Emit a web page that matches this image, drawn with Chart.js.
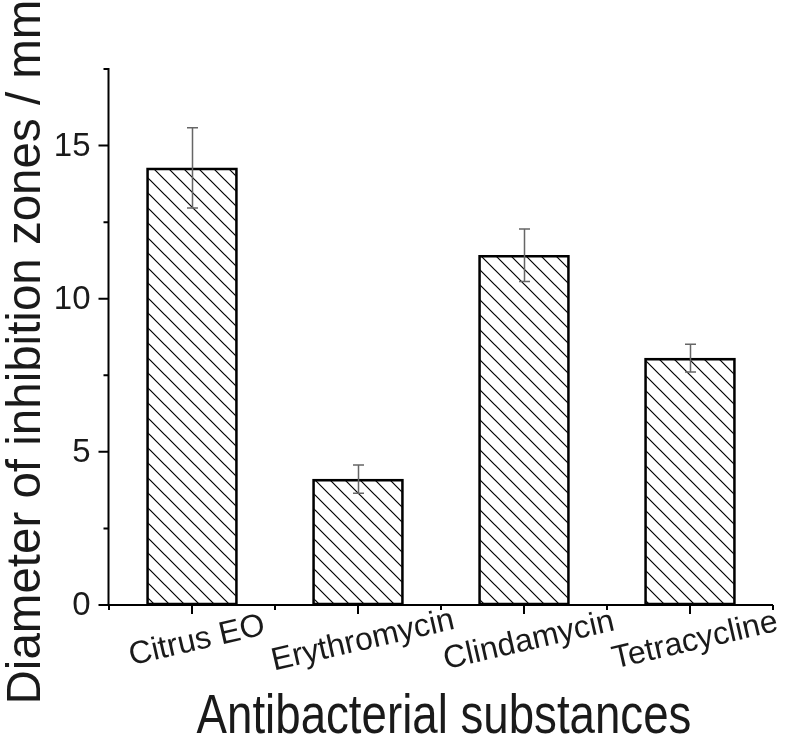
<!DOCTYPE html>
<html>
<head>
<meta charset="utf-8">
<script src="https://cdn.jsdelivr.net/npm/chart.js@4.4.1/dist/chart.umd.min.js"></script>
<style>
  body { margin: 0; background: #fff; }
  canvas { display: block; }
</style>
</head>
<body>
<canvas id="chart" width="787" height="741"></canvas>
<script>
// Data
const categories = ["Citrus EO", "Erythromycin", "Clindamycin", "Tetracycline"];
const zoneMeans = [14.27, 4.11, 11.42, 8.06];
const zoneErrors = [1.31, 0.46, 0.86, 0.45];
const yMajorTicks = [0, 5, 10, 15];
const yMinorTicks = [2.5, 7.5, 12.5, 17.5];
const xTitle = "Antibacterial substances";
const yTitle = "Diameter of inhibition zones / mm";

const FONT = '"Liberation Sans", Arial, sans-serif';

// hatch "\\\" pattern
function makeHatch() {
  const size = 15;
  const c = document.createElement("canvas");
  c.width = size;
  c.height = size;
  const g = c.getContext("2d");
  g.strokeStyle = "#000";
  g.lineWidth = 1.2;
  g.beginPath();
  g.moveTo(0, 0);
  g.lineTo(size, size);
  g.moveTo(-2, size - 2);
  g.lineTo(2, size + 2);
  g.moveTo(size - 2, -2);
  g.lineTo(size + 2, 2);
  g.stroke();
  return g.createPattern(c, "repeat");
}

const canvas = document.getElementById("chart");
const ctx = canvas.getContext("2d");

const errorBars = {
  id: "errorBars",
  afterDatasetsDraw(chart) {
    const { ctx } = chart;
    const y = chart.scales.y;
    const meta = chart.getDatasetMeta(0);
    ctx.save();
    ctx.strokeStyle = "#666";
    ctx.lineWidth = 1.5;
    meta.data.forEach((bar, i) => {
      const x = Math.round(bar.x) + 0.5;
      const top = y.getPixelForValue(zoneMeans[i] + zoneErrors[i]);
      const bot = y.getPixelForValue(zoneMeans[i] - zoneErrors[i]);
      ctx.beginPath();
      ctx.moveTo(x, top);
      ctx.lineTo(x, bot);
      ctx.moveTo(x - 5.5, top);
      ctx.lineTo(x + 5.5, top);
      ctx.moveTo(x - 5.5, bot);
      ctx.lineTo(x + 5.5, bot);
      ctx.stroke();
    });
    ctx.restore();
  },
};

// axes, ticks and texts drawn from the scales
const axesPlugin = {
  id: "axesPlugin",
  afterDraw(chart) {
    const { ctx, chartArea } = chart;
    const x = chart.scales.x;
    const y = chart.scales.y;
    const left = chartArea.left - 0.5;
    const bottom = chartArea.bottom;

    ctx.save();
    ctx.strokeStyle = "#000";
    ctx.lineWidth = 2;
    ctx.beginPath();
    ctx.moveTo(left, y.getPixelForValue(17.5) - 1);
    ctx.lineTo(left, bottom);
    ctx.moveTo(left - 10, bottom);
    ctx.lineTo(chartArea.right, bottom);
    yMajorTicks.forEach((v) => {
      const py = y.getPixelForValue(v);
      ctx.moveTo(left - 10, py);
      ctx.lineTo(left, py);
    });
    yMinorTicks.forEach((v) => {
      const py = y.getPixelForValue(v);
      ctx.moveTo(left - 5, py);
      ctx.lineTo(left, py);
    });
    categories.forEach((c, i) => {
      const px = x.getPixelForValue(i);
      ctx.moveTo(px, bottom);
      ctx.lineTo(px, bottom + 9);
    });
    for (let i = 0; i <= categories.length; i++) {
      const px = x.getPixelForValue(i - 0.5);
      ctx.moveTo(px, bottom);
      ctx.lineTo(px, bottom + 5);
    }
    ctx.stroke();

    ctx.fillStyle = "#1a1a1a";
    // y tick labels
    ctx.font = "33px " + FONT;
    ctx.textAlign = "right";
    ctx.textBaseline = "middle";
    yMajorTicks.forEach((v) => {
      ctx.fillText(String(v), left - 18, y.getPixelForValue(v) + 1);
    });

    // category labels, rotated
    ctx.font = "32px " + FONT;
    ctx.textAlign = "center";
    categories.forEach((c, i) => {
      const px = x.getPixelForValue(i);
      ctx.save();
      ctx.translate(px + 5, bottom + 36);
      ctx.rotate((-13 * Math.PI) / 180);
      ctx.fillText(c, 0, 0);
      ctx.restore();
    });

    // x title
    ctx.save();
    ctx.translate(444, 733);
    ctx.scale(0.83, 1);
    ctx.font = "55px " + FONT;
    ctx.textAlign = "center";
    ctx.textBaseline = "alphabetic";
    ctx.fillText(xTitle, 0, 0);
    ctx.restore();

    // y title
    ctx.save();
    ctx.translate(40, 352);
    ctx.rotate(-Math.PI / 2);
    ctx.font = "47.5px " + FONT;
    ctx.textAlign = "center";
    ctx.textBaseline = "alphabetic";
    ctx.fillText(yTitle, 0, 0);
    ctx.restore();

    ctx.restore();
  },
};

new Chart(ctx, {
  type: "bar",
  data: {
    labels: categories,
    datasets: [
      {
        data: zoneMeans,
        backgroundColor: makeHatch(),
        borderColor: "#000",
        borderWidth: 2,
        borderSkipped: false,
        barThickness: 91,
      },
    ],
  },
  options: {
    responsive: false,
    animation: false,
    layout: {
      padding: { left: 109, right: 14, top: 69, bottom: 136 },
    },
    plugins: {
      legend: { display: false },
      tooltip: { enabled: false },
    },
    scales: {
      x: { display: false, offset: true },
      y: { display: false, min: 0, max: 17.5 },
    },
  },
  plugins: [errorBars, axesPlugin],
});
</script>
</body>
</html>
